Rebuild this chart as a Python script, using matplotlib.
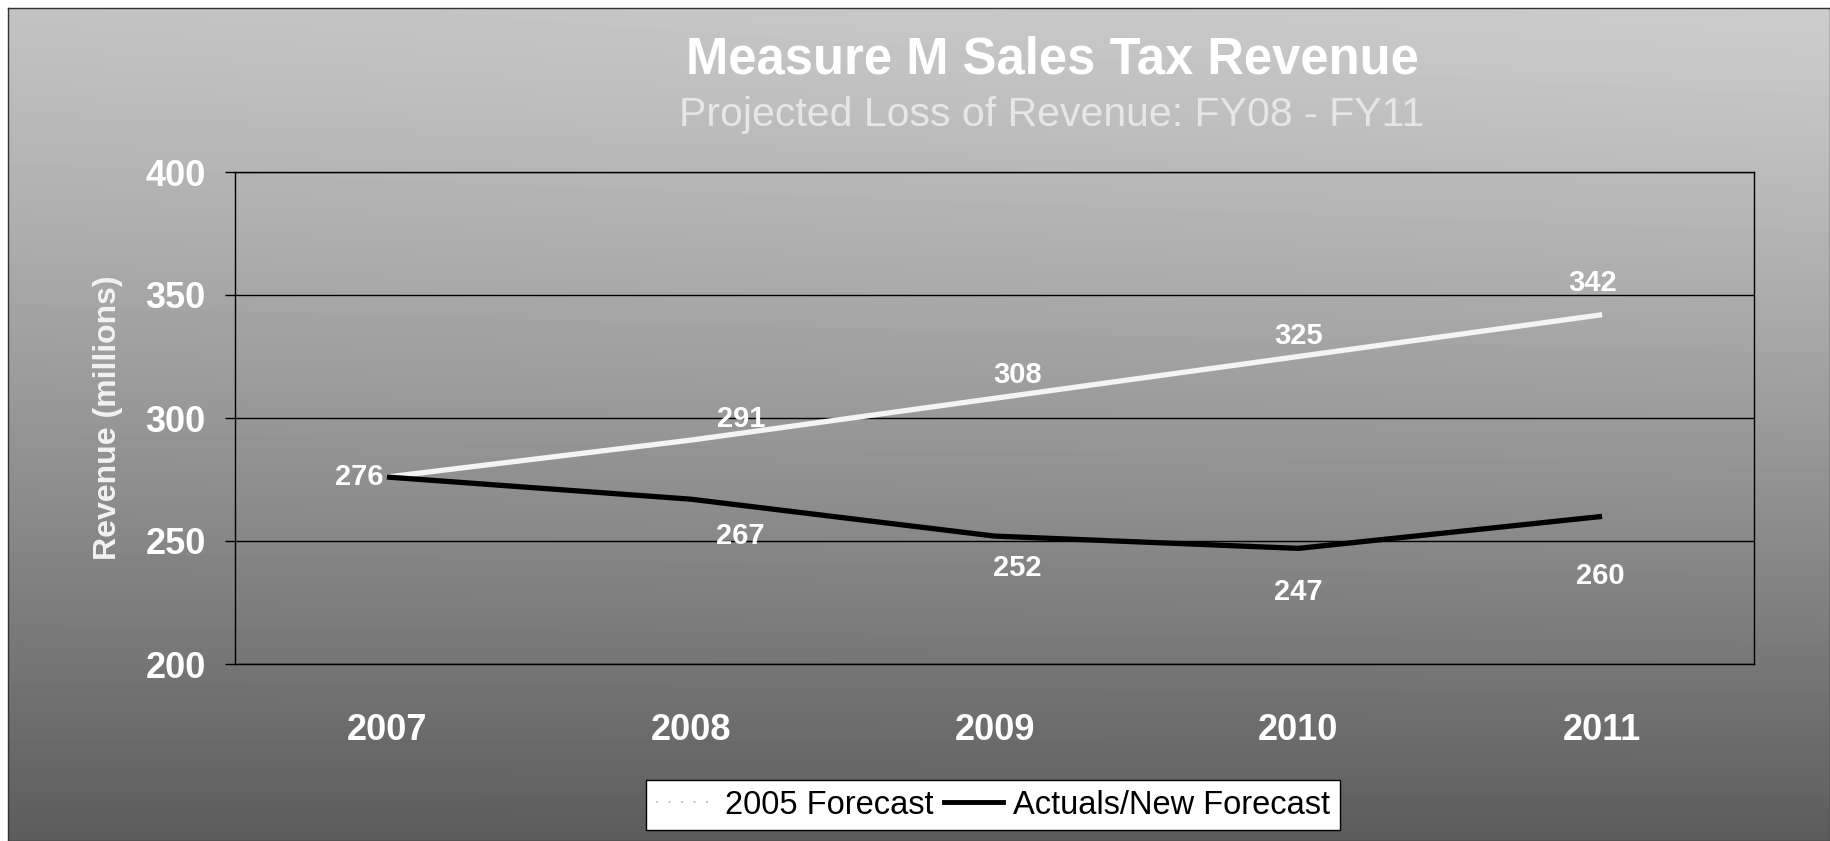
import numpy as np
import matplotlib
matplotlib.use("Agg")
import matplotlib.pyplot as plt
from matplotlib.lines import Line2D

plt.rcParams['font.family'] = ['Liberation Sans', 'DejaVu Sans']

# ---- data ----
years = ['2007', '2008', '2009', '2010', '2011']
forecast_2005 = [276, 291, 308, 325, 342]
actuals_new = [276, 267, 252, 247, 260]
y_ticks = [200, 250, 300, 350, 400]

title = 'Measure M Sales Tax Revenue'
subtitle = 'Projected Loss of Revenue: FY08 - FY11'
y_label = 'Revenue (millions)'
series_names = ['2005 Forecast', 'Actuals/New Forecast']

# label offsets in pixels (style only)
fc_offsets = [(-3, 0), (50, 21), (23, 23), (0, 20), (-10, 32)]
ac_offsets = [None, (50, -37), (23, -32), (0, -44), (-2, -60)]

W, H = 1830, 841
fig = plt.figure(figsize=(W / 100, H / 100), dpi=100)
fig.patch.set_facecolor('white')

# background gradient (chart area)
bg = fig.add_axes([8 / W, 0, 1 - 8 / W, 1 - 8 / H])
yy, xx = np.mgrid[0:1:200j, 0:1:400j]
grad = 0.76 - 0.40 * yy ** 1.2 + 0.04 * xx * (1 - yy)
bg.imshow(grad, cmap='gray', vmin=0, vmax=1, aspect='auto',
          extent=[0, 1, 0, 1], origin='upper', interpolation='bilinear')
bg.set_xticks([])
bg.set_yticks([])
for s in bg.spines.values():
    s.set_color('#333333')
    s.set_linewidth(1.0)
bg.set_zorder(-10)

# main plot
top_px, bot_px, left_px, right_px = 172, 664, 235, 1754
ax = fig.add_axes([left_px / W, 1 - bot_px / H,
                   (right_px - left_px) / W, (bot_px - top_px) / H])
ax.set_facecolor('none')
x = np.arange(len(years))
ax.set_xlim(-0.5, len(years) - 0.5)
ax.set_ylim(200, 400)
ax.set_yticks(y_ticks)
ax.set_yticklabels([str(v) for v in y_ticks], fontsize=26,
                   fontweight='bold', color='white')
ax.set_xticks(x)
ax.set_xticklabels(years, fontsize=26, fontweight='bold', color='white')
ax.tick_params(axis='y', length=7, width=1, color='black', pad=14)
ax.tick_params(axis='x', length=0, pad=35)
for s in ax.spines.values():
    s.set_color('black')
    s.set_linewidth(1.0)
ax.yaxis.grid(True, color='black', linewidth=1.0)
ax.set_axisbelow(True)

ax.plot(x, forecast_2005, color='#f4f4f4', linewidth=3.8,
        solid_capstyle='butt', zorder=3)
ax.plot(x, actuals_new, color='black', linewidth=3.8,
        solid_capstyle='butt', zorder=4)

for i, v in enumerate(forecast_2005):
    dx, dy = fc_offsets[i]
    ha = 'right' if i == 0 else 'center'
    ax.annotate(str(v), (x[i], v), xytext=(dx, dy), textcoords='offset pixels',
                ha=ha, va='center', fontsize=21, fontweight='bold',
                color='white', zorder=5)
for i, v in enumerate(actuals_new):
    if ac_offsets[i] is None:
        continue
    dx, dy = ac_offsets[i]
    ax.annotate(str(v), (x[i], v), xytext=(dx, dy), textcoords='offset pixels',
                ha='center', va='center', fontsize=21, fontweight='bold',
                color='white', zorder=5)

# titles
fig.text(1052 / W, 1 - 60 / H, title, ha='center', va='center',
         fontsize=36.5, fontweight='bold', color='white')
fig.text(1052 / W, 1 - 115 / H, subtitle, ha='center', va='center',
         fontsize=29.5, color='#e6e6e6')
fig.text(108 / W, 1 - 418 / H, y_label, ha='center', va='center',
         rotation=90, fontsize=23, fontweight='bold', color='#f2f2f2')

# legend
handles = [Line2D([0], [0], color='#c8c8c8', linewidth=1.5, linestyle=(0, (1, 5))),
           Line2D([0], [0], color='black', linewidth=3.5)]
leg = fig.legend(handles, series_names, loc='center', ncol=2,
                 bbox_to_anchor=(993 / W, 1 - 805 / H), fontsize=23.5,
                 frameon=True, fancybox=False, handlelength=1.8,
                 handletextpad=0.3, columnspacing=0.35, borderpad=0.3,
                 borderaxespad=0)
leg.get_frame().set_facecolor('white')
leg.get_frame().set_edgecolor('black')
leg.get_frame().set_linewidth(1.0)
leg.get_frame().set_alpha(1)

fig.savefig('out.png', dpi=100, facecolor=fig.get_facecolor())
